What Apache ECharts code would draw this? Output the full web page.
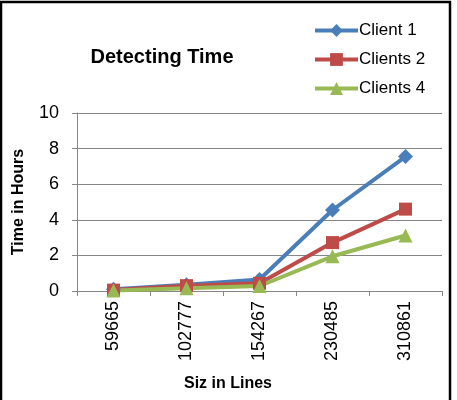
<!DOCTYPE html>
<html>
<head>
<meta charset="utf-8">
<script src="https://cdn.jsdelivr.net/npm/echarts@6/dist/echarts.min.js"></script>
<style>
  html, body { margin: 0; padding: 0; background: #fff; }
  #box { width: 457px; height: 400px; }
</style>
</head>
<body>
<div id="box"></div>
<script>
// data
const sizes = ["59665", "102777", "154267", "230485", "310861"];
const client1 = [0.1, 0.35, 0.65, 4.55, 7.55];
const clients2 = [0.05, 0.3, 0.43, 2.72, 4.6];
const clients4 = [0.03, 0.15, 0.28, 1.95, 3.12];
const yTicks = [0, 2, 4, 6, 8, 10];

const font = "Liberation Sans, Arial, sans-serif";
const myChart = echarts.init(document.getElementById("box"));

const option = {
  animation: false,
  title: [
    {
      text: "Detecting Time",
      left: 157,
      top: 42,
      textAlign: "center",
      textStyle: { fontFamily: font, fontSize: 20, fontWeight: "bold", color: "#000" }
    },
    {
      text: "Siz in Lines",
      left: 223,
      top: 371,
      textAlign: "center",
      textStyle: { fontFamily: font, fontSize: 16, fontWeight: "bold", color: "#000" }
    }
  ],
  legend: {
    orient: "vertical",
    left: 308,
    top: 17,
    itemWidth: 43,
    itemHeight: 16,
    itemGap: 12,
    lineStyle: { width: 4 },
    textStyle: { fontFamily: font, fontSize: 17, color: "#000", padding: [0, 0, 0, -4] },
    data: ["Client 1", "Clients 2", "Clients 4"]
  },
  grid: { left: 77, right: 15, top: 113, bottom: 109 },
  xAxis: {
    type: "category",
    data: sizes,
    boundaryGap: true,
    axisLine: { lineStyle: { color: "#868686", width: 1 } },
    axisTick: { show: true, length: 5, alignWithLabel: false, lineStyle: { color: "#868686" } },
    axisLabel: {
      rotate: 90,
      margin: 10,
      fontFamily: font,
      fontSize: 18,
      color: "#000",
      interval: 0
    }
  },
  yAxis: {
    type: "value",
    min: 0,
    max: 10,
    interval: 2,
    name: "Time in Hours",
    nameLocation: "middle",
    nameGap: 50,
    nameTextStyle: { fontFamily: font, fontSize: 16, fontWeight: "bold", color: "#000" },
    axisLine: { show: true, lineStyle: { color: "#868686", width: 1 } },
    axisTick: { show: true, length: 5, lineStyle: { color: "#868686" } },
    splitLine: { show: true, lineStyle: { color: "#868686", width: 1 } },
    axisLabel: {
      margin: 18,
      fontFamily: font,
      fontSize: 18,
      color: "#000",
      formatter: function (v) { return yTicks.indexOf(v) >= 0 ? String(v) : ""; }
    }
  },
  graphic: [
    {
      type: "polyline",
      shape: { points: [[1, 400], [1, 2], [450, 2], [450, 400]] },
      style: { stroke: "#000", lineWidth: 2.5, fill: null },
      silent: true
    }
  ],
  series: [
    {
      name: "Client 1",
      type: "line",
      data: client1,
      symbol: "diamond",
      symbolSize: 15,
      lineStyle: { width: 4, color: "#4A7EBB" },
      itemStyle: { color: "#4A7EBB" }
    },
    {
      name: "Clients 2",
      type: "line",
      data: clients2,
      symbol: "rect",
      symbolSize: 13,
      lineStyle: { width: 4, color: "#BE4B48" },
      itemStyle: { color: "#BE4B48" }
    },
    {
      name: "Clients 4",
      type: "line",
      data: clients4,
      symbol: "triangle",
      symbolSize: 14,
      lineStyle: { width: 4, color: "#98B954" },
      itemStyle: { color: "#98B954" }
    }
  ]
};

myChart.setOption(option);
</script>
</body>
</html>
